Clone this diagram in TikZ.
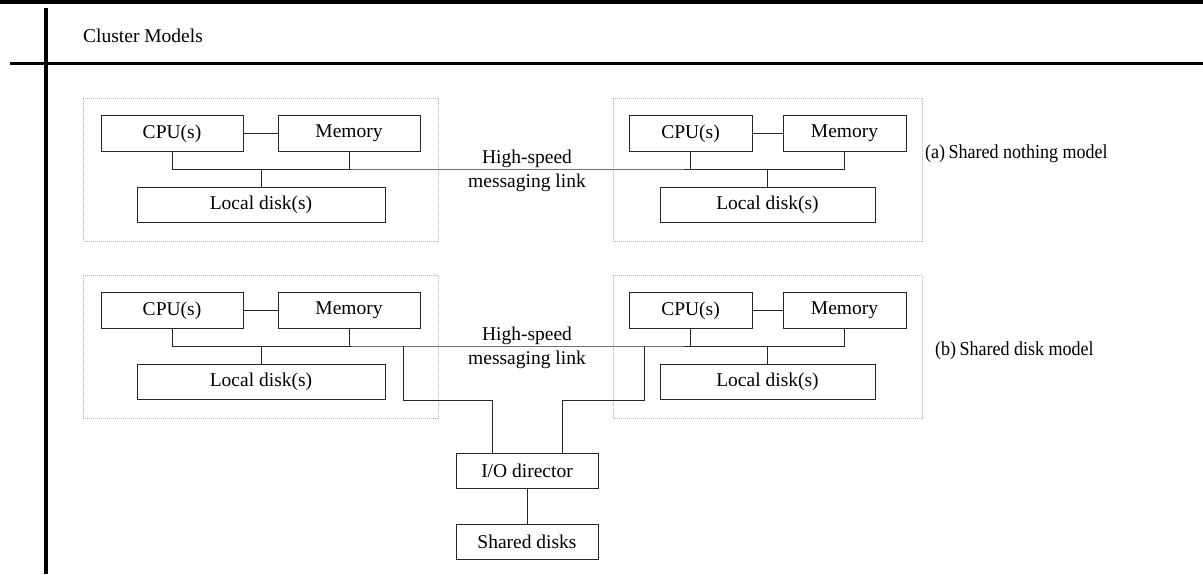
\documentclass[tikz,border=0pt]{standalone}
\usepackage{fontspec}
\setmainfont{Liberation Serif}
\newfontfamily\narrowserif[FakeStretch=0.91]{Liberation Serif}
\begin{document}
\begin{tikzpicture}[x=1pt,y=-1pt,
  box/.style={draw=black!85,line width=0.8pt,inner sep=0pt,minimum height=35.5pt,
    font=\fontsize{19.5}{23}\selectfont},
  wire/.style={draw=black!85,line width=0.8pt},
  frame/.style={draw=black!30,line width=0.6pt,dash pattern=on 1pt off 1pt,inner sep=0pt},
  txt/.style={inner sep=0pt,font=\fontsize{19.5}{23}\selectfont},
  caption/.style={inner sep=0pt,font=\narrowserif\fontsize{19.8}{23}\selectfont},
  rule/.style={line width=3.6pt,black}]
\useasboundingbox (0,0) rectangle (1203,574);

% page rules and heading
\coordinate (topL) at (0,2);   \coordinate (topR) at (1203,2);
\coordinate (midL) at (10,63); \coordinate (midR) at (1203,63);
\coordinate (vT) at (46,8);    \coordinate (vB) at (46,574);
\draw[rule] (topL) -- (topR);
\draw[rule,line width=3pt] (midL) -- (midR);
\draw[rule] (vT) -- (vB);
\node[txt,anchor=base west] (title) at (83,42) {Cluster Models};

% one cluster row: #1 = prefix, #2 = vertical offset
\newcommand\clusterrow[2]{%
  \begin{scope}[yshift=-#2pt]
    \node[frame,minimum width=355pt,minimum height=143pt] (#1fL) at (260.5,169.5) {};
    \node[frame,minimum width=309pt,minimum height=143pt] (#1fR) at (767.5,169.5) {};
    \node[box,minimum width=142pt] (#1cpuL) at (172,133.5) {CPU(s)};
    \node[box,minimum width=142pt] (#1memL) at (349,133.5) {Memory};
    \node[box,minimum width=248pt] (#1diskL) at (261,205) {Local disk(s)};
    \node[box,minimum width=123pt] (#1cpuR) at (690.5,133.5) {CPU(s)};
    \node[box,minimum width=123pt] (#1memR) at (844.5,133.5) {Memory};
    \node[box,minimum width=215pt] (#1diskR) at (767.5,205) {Local disk(s)};
    \coordinate (#1bus) at (527,169);
    \node[txt,anchor=base] (#1hs) at (527,163) {High-speed};
    \node[txt,anchor=base] (#1ml) at (527,187) {messaging link};
  \end{scope}
  \draw[wire] (#1cpuL) -- (#1memL);
  \draw[wire] (#1cpuR) -- (#1memR);
  \draw[wire] (#1cpuL.south) |- (#1bus) -| (#1memR.south);
  \draw[wire] (#1memL.south) -- (#1memL.south |- #1bus);
  \draw[wire] (#1diskL.north) -- (#1diskL.north |- #1bus);
  \draw[wire] (#1cpuR.south) -- (#1cpuR.south |- #1bus);
  \draw[wire] (#1diskR.north) -- (#1diskR.north |- #1bus);
}

\clusterrow{a}{0}
\clusterrow{b}{177}

\node[caption,anchor=base west] (capA) at (925,158) {(a)\,Shared nothing model};
\node[caption,anchor=base west] (capB) at (935,355) {(b)\,Shared disk model};

% shared disk path of model (b)
\node[box,minimum width=142pt] (io) at (527,471) {I/O director};
\node[box,minimum width=142pt] (sd) at (527,542) {Shared disks};
\coordinate (tapL) at (403,346);
\coordinate (tapR) at (644,346);
\coordinate (turnL) at (403,400);
\coordinate (turnR) at (644,400);
\draw[wire] (tapL) -- (turnL) -| ([xshift=-35pt]io.north);
\draw[wire] (tapR) -- (turnR) -| ([xshift=35pt]io.north);
\draw[wire] (io) -- (sd);
\end{tikzpicture}
\end{document}
